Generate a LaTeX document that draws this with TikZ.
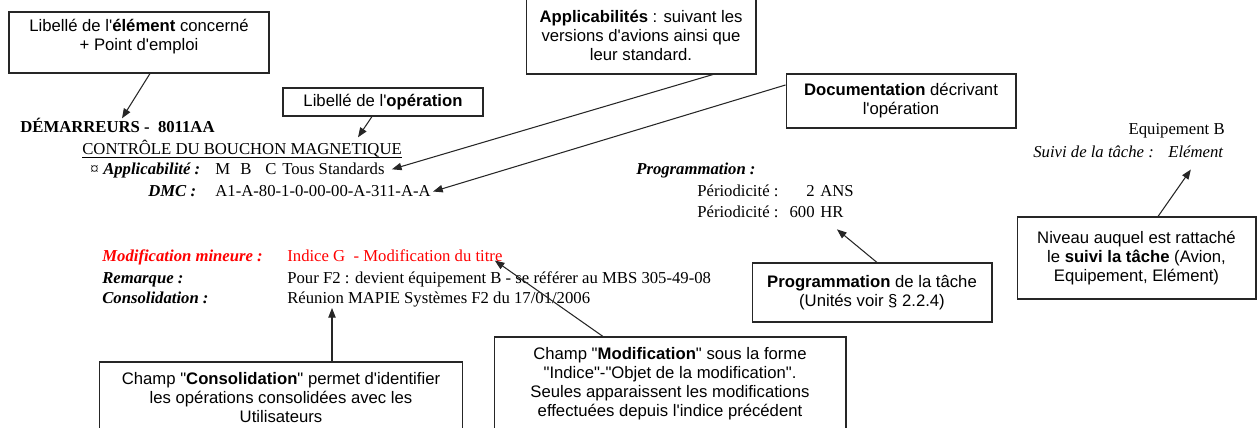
\documentclass[tikz,border=0pt]{standalone}
\usepackage{fontspec}
\setmainfont{Liberation Serif}
\setsansfont{Liberation Sans}[Ligatures=TeXOff]
\usetikzlibrary{arrows.meta,calc}

\begin{document}
\begin{tikzpicture}[x=0.02cm,y=-0.02cm,
    notebox/.style={draw=black!85,line width=0.6pt,inner sep=0pt,align=center,
      font=\sffamily\fontsize{9.5}{10.8}\selectfont},
    doctext/.style={inner sep=0pt,anchor=base west,font=\fontsize{9.5}{11}\selectfont},
    link/.style={draw=black!85,line width=0.6pt,-{Triangle[length=5.5pt,width=4.2pt]}}]
    \clip (0,0) rectangle (1258,428);

    % encadres
    \node[notebox,minimum width=5.2cm,minimum height=1.22cm] (elem) at (139,42.5)
        {Libellé de l'\textbf{élément} concerné\\+ Point d'emploi\\[-2.5pt]\mbox{}};
    \node[notebox,minimum width=4.0cm,minimum height=0.56cm] (oper) at (383,102)
        {Libellé de l'\textbf{opération}};
    \node[notebox,minimum width=4.6cm,minimum height=1.54cm] (applbox) at (641,35.5)
        {\textbf{Applicabilités} : suivant les\\versions d'avions ainsi que\\leur standard.};
    \node[notebox,minimum width=4.6cm,minimum height=1.08cm] (docbox) at (901,101)
        {\textbf{Documentation} décrivant\\l'opération};
    \node[notebox,minimum width=4.8cm,minimum height=1.18cm] (progbox) at (872,292.5)
        {\textbf{Programmation} de la tâche\\(Unités voir § 2.2.4)};
    \node[notebox,minimum width=4.78cm,minimum height=1.64cm] (suivibox) at (1136.5,258)
        {Niveau auquel est rattaché\\le \textbf{suivi la tâche} (Avion,\\Equipement, Elément)};
    \node[notebox,minimum width=7.28cm,minimum height=1.44cm] (consbox) at (281,398)
        {Champ "\textbf{Consolidation}" permet d'identifier\\les opérations consolidées avec les\\Utilisateurs};
    \node[notebox,minimum width=7.04cm,minimum height=1.86cm] (modbox) at (670,383.5)
        {Champ "\textbf{Modification}" sous la forme\\"Indice"-"Objet de la modification".\\Seules apparaissent les modifications\\effectuées depuis l'indice précédent};

    % fiche
    \node[doctext] (dem) at (20,133) {\textbf{DÉMARREURS -\ \ 8011AA}};
    \node[doctext] (ctrl) at (82,155) {CONTRÔLE DU BOUCHON MAGNETIQUE};
    \draw[line width=0.5pt] ($(ctrl.base west)+(0,2)$) -- ($(ctrl.base east)+(0,2)$);
    \node[doctext] (applab) at (90,175) {¤\hspace{2.6pt}\textbf{\textit{Applicabilité :}}};
    \node[doctext] (applval) at (215,175)
        {\makebox[0.5cm][l]{M}\makebox[0.5cm][l]{B}\makebox[0.34cm][l]{C}Tous Standards};
    \node[doctext] (dmclab) at (148,197) {\textbf{\textit{DMC :}}};
    \node[doctext] (dmcval) at (215,197) {A1-A-80-1-0-00-00-A-311-A-A};

    \node[doctext] (proglab) at (636,175) {\textbf{\textit{Programmation :}}};
    \node[doctext] (per1) at (697,197) {Périodicité :};
    \node[doctext,anchor=base east] (num1) at (815,197) {2};
    \node[doctext] (ans) at (820,197) {ANS};
    \node[doctext] (per2) at (697,218) {Périodicité :};
    \node[doctext,anchor=base east] (num2) at (815,218) {600};
    \node[doctext] (hr) at (820,218) {HR};

    \node[doctext,anchor=base east] (equip) at (1225,135) {Equipement B};
    \node[doctext] (suivilab) at (1033,158) {\textit{Suivi de la tâche :}};
    \node[doctext] (suivival) at (1168,158) {\textit{Elément}};

    \node[doctext,text=red] (modlab) at (102,262) {\textbf{\textit{Modification mineure :}}};
    \node[doctext,text=red] (modval) at (287,262) {Indice G\ \ - Modification du titre};
    \node[doctext] (remlab) at (102,284) {\textbf{\textit{Remarque :}}};
    \node[doctext] (remval) at (287,284) {Pour F2 : devient équipement B - se référer au MBS 305-49-08};
    \node[doctext] (conslab) at (102,304) {\textbf{\textit{Consolidation :}}};
    \node[doctext] (consval) at (287,304) {Réunion MAPIE Systèmes F2 du 17/01/2006};

    % fleches
    \draw[link] ($(elem.south)+(11,0)$) -- ($(dem.north west)+(102,0)$);
    \draw[link] ($(oper.south)+(-11,0)$) -- ($(ctrl.north west)+(276,-3)$);
    \draw[link] ($(applbox.south)+(72,0)$) -- ($(applval.east)+(7,0)$);
    \draw[link] ($(docbox.west)+(0,-16)$) -- ($(dmcval.east)+(2,0)$);
    \draw[link] ($(progbox.north)+(5,0)$) -- ($(hr.south)+(5,11)$);
    \draw[link] ($(suivibox.north)+(21.5,0)$) -- ($(suivival.south)+(-5,11)$);
    \draw[link] ($(consbox.north)+(51,0)$) -- ($(consval.south west)+(45,0)$);
    \draw[link] ($(modbox.north)+(-67,0)$) -- ($(modval.south east)+(-8,-2)$);

\end{tikzpicture}
\end{document}
